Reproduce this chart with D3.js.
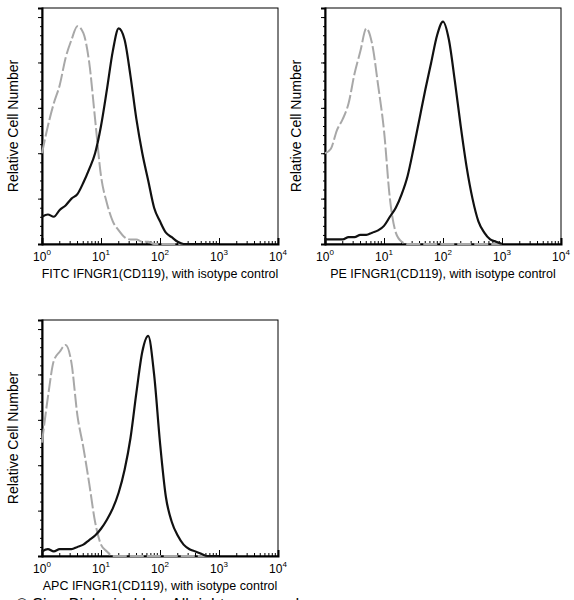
<!DOCTYPE html><html><head><meta charset="utf-8"><script src="https://d3js.org/d3.v7.min.js"></script>
<style>body{margin:0;background:#fff}</style></head><body><svg id="c" width="574" height="600"></svg>
<script>
const logX = d3.range(0, 3.01, 0.1);
const fitcIso = [0.40,0.52,0.62,0.70,0.82,0.90,0.96,0.93,0.80,0.55,0.30,0.18,0.10,0.06,0.03,0.02,0.02,0.01,0.01,0,0,0,0,0,0,0,0,0,0,0,0];
const fitcAb  = [0.12,0.13,0.12,0.15,0.17,0.20,0.22,0.27,0.33,0.40,0.52,0.68,0.85,0.95,0.90,0.74,0.55,0.40,0.28,0.16,0.10,0.05,0.03,0.01,0,0,0,0,0,0,0];
const peIso   = [0.40,0.42,0.50,0.55,0.62,0.75,0.85,0.95,0.88,0.70,0.50,0.20,0.05,0.01,0,0,0,0,0,0,0,0,0,0,0,0,0,0,0,0,0];
const peAb    = [0.02,0.02,0.02,0.02,0.03,0.03,0.04,0.04,0.05,0.06,0.08,0.12,0.16,0.22,0.30,0.42,0.55,0.68,0.80,0.92,0.98,0.90,0.72,0.52,0.34,0.20,0.10,0.05,0.02,0.01,0];
const apcIso  = [0.50,0.70,0.86,0.90,0.93,0.85,0.62,0.48,0.32,0.15,0.05,0.02,0,0,0,0,0,0,0,0,0,0,0,0,0,0,0,0,0,0,0];
const apcAb   = [0.02,0.03,0.02,0.03,0.03,0.03,0.04,0.05,0.07,0.09,0.12,0.16,0.21,0.28,0.38,0.52,0.72,0.90,0.97,0.80,0.50,0.26,0.15,0.09,0.05,0.03,0.02,0.01,0,0,0];
const xLabels = ["FITC IFNGR1(CD119), with isotype control","PE IFNGR1(CD119), with isotype control","APC IFNGR1(CD119), with isotype control"];
const panels = [
 {x:42,y:8,iso:fitcIso,ab:fitcAb,label:xLabels[0]},
 {x:325,y:8,iso:peIso,ab:peAb,label:xLabels[1]},
 {x:42,y:320,iso:apcIso,ab:apcAb,label:xLabels[2]}];
const W=236,H=236;
const svg=d3.select("#c");
const font="Liberation Sans, Arial, sans-serif";
panels.forEach(p=>{
 const g=svg.append("g").attr("transform",`translate(${p.x},${p.y})`);
 const x=d3.scaleLog().domain([1,1e4]).range([0,W]);
 const y=d3.scaleLinear().domain([0,1.04]).range([H,0]);
 g.append("rect").attr("width",W).attr("height",H).attr("fill","none").attr("stroke","#000").attr("stroke-width",1);
 const minors=[];for(let d=0;d<4;d++)for(let k=2;k<10;k++)minors.push(k*Math.pow(10,d));
 g.selectAll(".mx").data(minors).join("line").attr("x1",d=>x(d)).attr("x2",d=>x(d)).attr("y1",H).attr("y2",H-3).attr("stroke","#000");
 const xa=g.append("g").attr("transform",`translate(0,${H})`).call(d3.axisBottom(x).tickValues([1,10,100,1000,10000]).tickSize(-6).tickFormat(""));
 xa.select(".domain").attr("stroke-width",2);
 [0,1,2,3,4].forEach(e=>{
  const t=g.append("text").attr("x",x(Math.pow(10,e))).attr("y",H+17).attr("text-anchor","middle").attr("font-family",font).attr("font-size",12);
  t.append("tspan").text("10");t.append("tspan").attr("dy",-6).attr("font-size",8).text(e);
 });
 const ya=g.append("g").call(d3.axisLeft(y).tickValues(d3.range(0,1.01,0.2)).tickSize(4).tickFormat(""));
 ya.select(".domain").attr("stroke-width",2);
 g.append("g").call(d3.axisLeft(y).tickValues(d3.range(0,1.04,0.04)).tickSize(2).tickFormat("")).select(".domain").remove();
 const line=d3.line().x((d,i)=>x(Math.pow(10,logX[i]))).y(d=>y(d)).curve(d3.curveMonotoneX);
 g.append("path").datum(p.iso).attr("d",line).attr("fill","none").attr("stroke","#a8a8a8").attr("stroke-width",2).attr("stroke-dasharray","14,3");
 g.append("path").datum(p.ab).attr("d",line).attr("fill","none").attr("stroke","#111").attr("stroke-width",2.2);
 g.append("text").attr("x",W/2).attr("y",H+34).attr("text-anchor","middle").attr("font-family",font).attr("font-size",12.5).text(p.label);
 g.append("text").attr("transform",`translate(-24,${H/2}) rotate(-90)`).attr("text-anchor","middle").attr("font-family",font).attr("font-size",14).text("Relative Cell Number");
});
svg.append("text").attr("x",16).attr("y",610).attr("font-family",font).attr("font-size",16).text("© Sino Biological Inc. All rights reserved.");
</script></body></html>
